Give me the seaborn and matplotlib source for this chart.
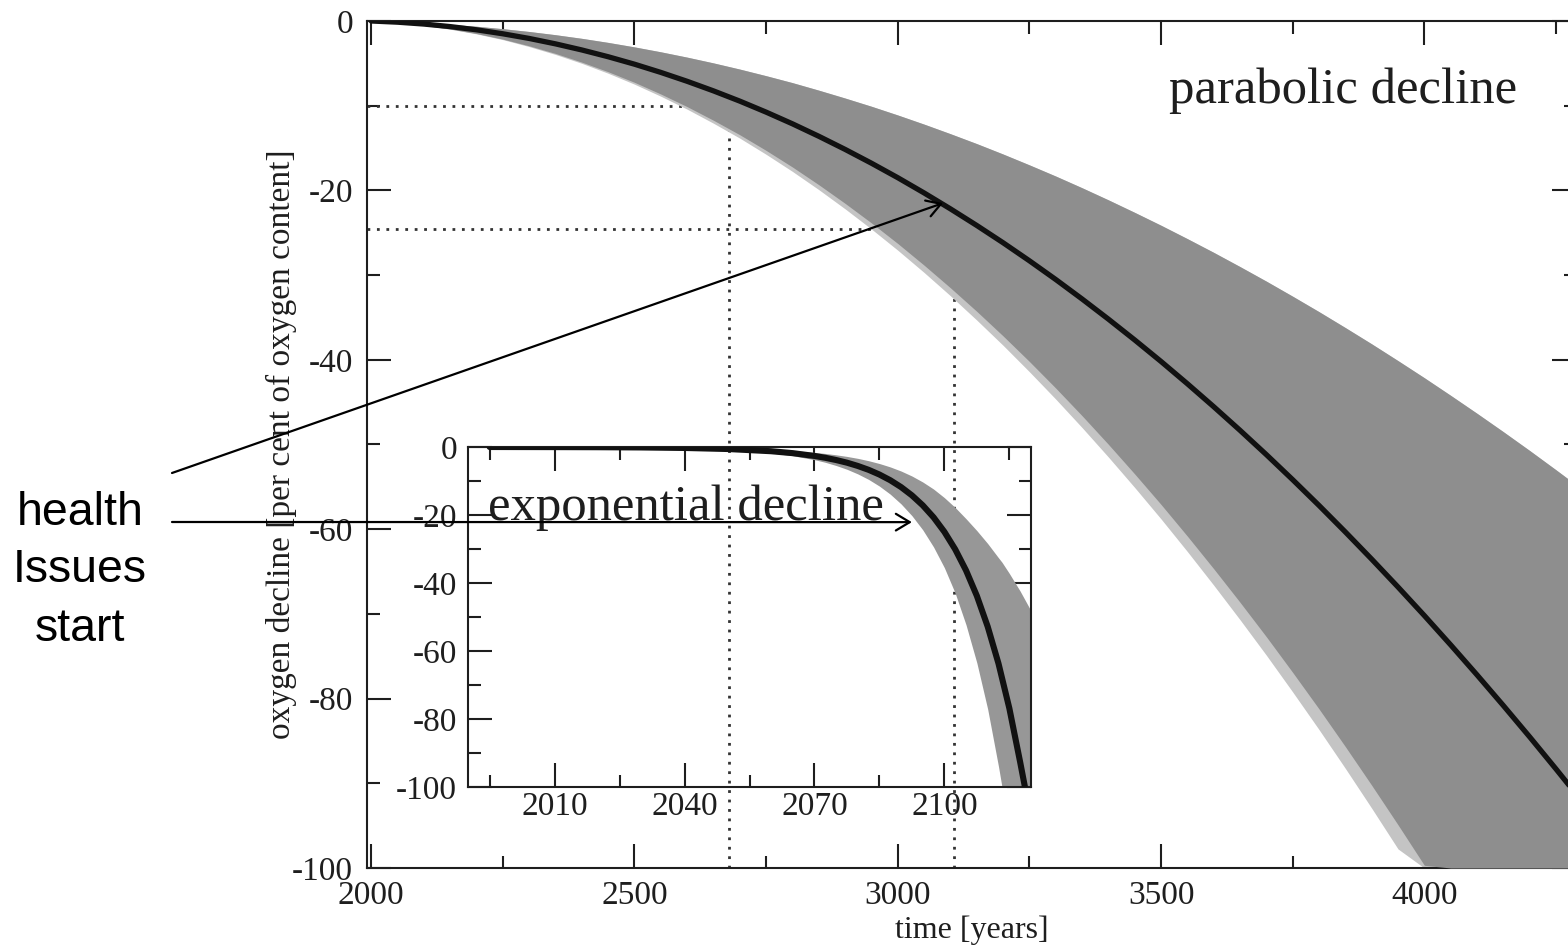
import matplotlib
matplotlib.use("Agg")
import matplotlib.pyplot as plt
import pandas as pd
import seaborn as sns
from matplotlib.ticker import MultipleLocator

# ---- parabolic scenario (main panel), every 50 years ----
years = [2000, 2050, 2100, 2150, 2200, 2250, 2300, 2350, 2400, 2450,
         2500, 2550, 2600, 2650, 2700, 2750, 2800, 2850, 2900, 2950,
         3000, 3050, 3100, 3150, 3200, 3250, 3300, 3350, 3400, 3450,
         3500, 3550, 3600, 3650, 3700, 3750, 3800, 3850, 3900, 3950,
         4000, 4050, 4100, 4150, 4200, 4250, 4300]
decline_mean = [0, -0.14, -0.36, -0.66, -1.04, -1.51, -2.06, -2.70, -3.42, -4.22,
                -5.10, -6.07, -7.12, -8.25, -9.46, -10.76, -12.14, -13.61, -15.16, -16.79,
                -18.50, -20.30, -22.18, -24.14, -26.18, -28.31, -30.52, -32.82, -35.20, -37.66,
                -40.20, -42.83, -45.54, -48.33, -51.20, -54.16, -57.20, -60.33, -63.54, -66.83,
                -70.20, -73.66, -77.20, -80.82, -84.52, -88.31, -92.18]
decline_upper = [0, -0.08, -0.22, -0.40, -0.62, -0.91, -1.24, -1.62, -2.05, -2.53,
                 -3.06, -3.64, -4.27, -4.95, -5.68, -6.46, -7.28, -8.17, -9.10, -10.07,
                 -11.10, -12.18, -13.31, -14.48, -15.71, -16.99, -18.31, -19.69, -21.12, -22.60,
                 -24.12, -25.70, -27.32, -29.00, -30.72, -32.50, -34.32, -36.20, -38.12, -40.10,
                 -42.12, -44.20, -46.32, -48.49, -50.71, -52.99, -55.31]
decline_lower = [0, -0.20, -0.51, -0.94, -1.48, -2.14, -2.93, -3.83, -4.86, -5.99,
                 -7.24, -8.62, -10.11, -11.72, -13.43, -15.28, -17.24, -19.33, -21.53, -23.84,
                 -26.27, -28.83, -31.50, -34.28, -37.18, -40.20, -43.34, -46.60, -49.98, -53.48,
                 -57.08, -60.82, -64.67, -68.63, -72.70, -76.91, -81.22, -85.67, -90.23, -94.90,
                 -99.68, -100, -100, -100, -100, -100, -100]
decline_fringe = [0, -0.21, -0.53, -0.97, -1.52, -2.20, -3.02, -3.95, -5.00, -6.17,
                  -7.46, -8.88, -10.41, -12.07, -13.83, -15.74, -17.76, -19.91, -22.18, -24.56,
                  -27.06, -29.69, -32.44, -35.31, -38.29, -41.41, -44.64, -48.00, -51.48, -55.08,
                  -58.79, -62.64, -66.61, -70.69, -74.88, -79.22, -83.66, -88.24, -92.94, -97.75,
                  -100, -100, -100, -100, -100, -100, -100]

# reference levels marked with dotted guides
guide_years = [2679, 3106]
guide_levels = [-10, -24.6]

# ---- exponential scenario (inset) ----
years_exp = [1995, 2000, 2010, 2020, 2030, 2040, 2050, 2060, 2065, 2070,
             2072.5, 2075, 2077.5, 2080, 2082.5, 2085, 2087.5, 2090, 2092.5, 2095,
             2097.5, 2100, 2102.5, 2105, 2107.5, 2110, 2112.5, 2115, 2117.5, 2118.6]
exp_mean = [0, -0.01, -0.03, -0.06, -0.13, -0.28, -0.59, -1.24, -1.81, -2.63,
            -3.17, -3.83, -4.61, -5.57, -6.71, -8.10, -9.77, -11.79, -14.22, -17.15,
            -20.68, -24.95, -30.10, -36.30, -43.79, -52.82, -63.71, -76.85, -92.70, -100]
band_years_exp = [2040, 2050, 2060, 2065, 2070, 2072.5, 2075, 2077.5, 2080, 2082.5,
                  2085, 2087.5, 2090, 2092.5, 2095, 2097.5, 2100, 2102.5, 2105, 2107.5,
                  2110, 2112.5, 2113.3, 2115, 2117.5, 2120]
exp_upper = [-0.17, -0.35, -0.74, -1.09, -1.58, -1.90, -2.30, -2.77, -3.34, -4.03,
             -4.86, -5.86, -7.07, -8.53, -10.29, -12.37, -14.90, -17.80, -21.10, -24.60,
             -28.40, -32.60, -33.90, -37.20, -42.40, -48.20]
exp_lower = [-0.40, -0.84, -1.76, -2.57, -3.73, -4.50, -5.44, -6.55, -7.91, -9.53,
             -11.50, -13.87, -16.74, -20.19, -24.35, -29.40, -35.50, -43.00, -52.30, -63.50,
             -77.10, -94.00, -100, -100, -100, -100]

y_ticks = [0, -20, -40, -60, -80, -100]
y_ticklabels = ["0", "-20", "-40", "-60", "-80", "-100"]

sns.set_theme(style="ticks")
plt.rcParams["font.family"] = ["Liberation Serif", "DejaVu Serif"]
plt.rcParams["axes.unicode_minus"] = False

INK = "#1e1e1e"
BAND = "#8e8e8e"
FRINGE = "#c4c4c4"

W, H = 1568, 947
fig = plt.figure(figsize=(W / 100, H / 100), dpi=100)
fig.patch.set_facecolor("white")


def px_rect(left, top, right, bottom):
    return [left / W, 1 - bottom / H, (right - left) / W, (bottom - top) / H]


def style_axes(a, xmaj, xmin, xpad, ypad):
    for s in a.spines.values():
        s.set_linewidth(1.5)
        s.set_color(INK)
        s.set_visible(True)
    a.xaxis.set_major_locator(MultipleLocator(xmaj))
    a.xaxis.set_minor_locator(MultipleLocator(xmin))
    a.set_yticks(y_ticks)
    a.set_yticklabels(y_ticklabels)
    a.yaxis.set_minor_locator(MultipleLocator(10))
    a.tick_params(which="both", direction="in", top=True, right=True,
                  color=INK, width=1.5, labelsize=24, labelcolor=INK)
    a.tick_params(which="major", length=17)
    a.tick_params(which="minor", length=9)
    a.tick_params(axis="x", which="major", pad=xpad)
    a.tick_params(axis="y", which="major", pad=ypad)
    a.grid(False)


# ---- main axes ----
ax = fig.add_axes(px_rect(367, 21, 1576, 868))
ax.set_facecolor("white")
main_df = pd.DataFrame({"year": years, "mean": decline_mean,
                        "upper": decline_upper, "lower": decline_lower,
                        "fringe": decline_fringe})

dots = (0, (1.0, 2.4))
for gx, gy in zip(guide_years, guide_levels):
    ax.plot([1992, gx], [gy, gy], color="#333333", lw=2.0, ls=dots, zorder=1)
    ax.plot([gx, gx], [-100, gy], color="#333333", lw=2.0, ls=dots, zorder=1)

ax.fill_between(main_df["year"], main_df["upper"], main_df["fringe"],
                color=FRINGE, lw=0, zorder=2)
ax.fill_between(main_df["year"], main_df["upper"], main_df["lower"],
                color=BAND, lw=0, zorder=3)
sns.lineplot(data=main_df, x="year", y="mean", ax=ax, color="#111111",
             lw=3.8, zorder=4, legend=False)

ax.set_xlim(1992, 4288)
ax.set_ylim(-100, 0)
style_axes(ax, 500, 250, 9, 10)
ax.set_xlabel("time [years]", fontsize=23, color=INK)
ax.set_ylabel("oxygen decline [per cent of oxygen content]", fontsize=24,
              color=INK)
ax.xaxis.set_label_coords(0.5, -0.056)
ax.yaxis.set_label_coords(-0.058, 0.5)
ax.text(3515, -9.7, "parabolic decline", fontsize=36.5, color=INK,
        ha="left", va="baseline")

# ---- inset ----
axi = fig.add_axes(px_rect(468, 447, 1031, 787))
axi.patch.set_alpha(0.0)
exp_df = pd.DataFrame({"year": years_exp, "mean": exp_mean})
band_df = pd.DataFrame({"year": band_years_exp, "upper": exp_upper,
                        "lower": exp_lower})
axi.fill_between(band_df["year"], band_df["upper"], band_df["lower"],
                 color="#979797", lw=0, zorder=2)
sns.lineplot(data=exp_df, x="year", y="mean", ax=axi, color="#111111",
             lw=4.4, zorder=3, legend=False)
axi.set_xlim(1990, 2120)
axi.set_ylim(-100, 0)
style_axes(axi, 30, 15, 3, 8)
axi.set_xlabel("")
axi.set_ylabel("")
axi.text(1994.6, -21.5, "exponential decline", fontsize=36.5, color=INK,
         ha="left", va="baseline")

# ---- annotation ----
arrow = dict(arrowstyle="->,head_length=0.5,head_width=0.3", color="black",
             lw=1.6, shrinkA=0, shrinkB=0, mutation_scale=20)
ax.annotate("", xy=(3086, -21.5), xycoords="data",
            xytext=(172, H - 473), textcoords="figure pixels",
            arrowprops=arrow, annotation_clip=False, zorder=10)
axi.annotate("", xy=(2092.5, -22.1), xycoords="data",
             xytext=(172, H - 522), textcoords="figure pixels",
             arrowprops=arrow, annotation_clip=False, zorder=10)

for label, base in zip(["health", "Issues", "start"], [525, 582, 641]):
    fig.text(80 / W, 1 - base / H, label, fontsize=33.5,
             family=["Liberation Sans", "DejaVu Sans"], color="black",
             ha="center", va="baseline")

fig.savefig("out.png", dpi=100, facecolor="white")
